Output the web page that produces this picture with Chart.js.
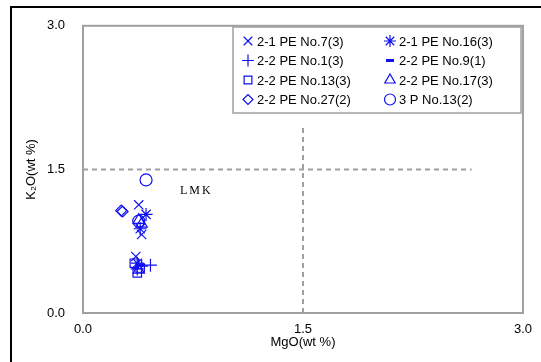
<!DOCTYPE html>
<html>
<head>
<meta charset="utf-8">
<script src="https://cdn.jsdelivr.net/npm/chart.js@4"></script>
<style>
  html, body { margin: 0; padding: 0; background: #fff; }
  #wrap { width: 541px; height: 362px; position: relative; }
</style>
</head>
<body>
<div id="wrap"><canvas id="plot" width="541" height="362"></canvas></div>
<script>
// sample series: MgO (x) vs K2O (y), wt %
const seriesNames = ['2-1 PE No.7(3)', '2-1 PE No.16(3)', '2-2 PE No.1(3)', '2-2 PE No.9(1)',
  '2-2 PE No.13(3)', '2-2 PE No.17(3)', '2-2 PE No.27(2)', '3 P No.13(2)']
const seriesStyles = ['crossRot', 'star', 'cross', 'line', 'rect', 'triangle', 'rectRot', 'circle']
const mgo = [
  [0.38, 0.40, 0.36],
  [0.43, 0.39, 0.37],
  [0.46, 0.40, 0.37],
  [0.39],
  [0.35, 0.39, 0.37],
  [0.38, 0.40, 0.38],
  [0.26, 0.27],
  [0.43, 0.38]
]
const k2o = [
  [1.13, 0.82, 0.59],
  [1.03, 0.88, 0.52],
  [0.50, 0.49, 0.46],
  [0.50],
  [0.52, 0.47, 0.42],
  [0.97, 0.93, 0.45],
  [1.07, 1.06],
  [1.39, 0.96]
]
// boundary lines of the LMK field
const hLineX = [0, 2.65]
const hLineY = [1.5, 1.5]
const vLineX = [1.5, 1.5]
const vLineY = [0, 1.95]
const tickValues = [0, 1.5, 3.0]

const blue = '#1010f0'
const grey = '#a0a0a0'

function markSize(style) {
  if (style == 'line') return 4.5
  if (style == 'rectRot') return 5.5
  if (style == 'rect' || style == 'circle') return 6
  return 6.5
}

let datasets = seriesNames.map((name, i) => ({
  label: name,
  data: mgo[i].map((x, j) => ({x: x, y: k2o[i][j]})),
  pointStyle: seriesStyles[i],
  pointRadius: markSize(seriesStyles[i]),
  borderColor: blue,
  backgroundColor: 'rgba(0,0,0,0)',
  pointBorderWidth: seriesStyles[i] == 'line' ? 3 : 1.2,
  showLine: false
}))
datasets.push({
  label: 'h', data: hLineX.map((x, i) => ({x: x, y: hLineY[i]})),
  showLine: true, borderColor: grey, borderWidth: 2, borderDash: [5, 4], pointRadius: 0
})
datasets.push({
  label: 'v', data: vLineX.map((x, i) => ({x: x, y: vLineY[i]})),
  showLine: true, borderColor: grey, borderWidth: 2, borderDash: [5, 4], pointRadius: 0
})

// frame, outer border, LMK text and the two-column legend
const decor = {
  id: 'decor',
  beforeDatasetsDraw(chart) {
    const ctx = chart.ctx, a = chart.chartArea
    ctx.save()
    ctx.strokeStyle = grey
    ctx.lineWidth = 2
    ctx.strokeRect(a.left, a.top, a.right - a.left, a.bottom - a.top)
    ctx.strokeStyle = '#000'
    ctx.strokeRect(11, 7, 560, 400)
    ctx.restore()
  },
  afterDatasetsDraw(chart) {
    const ctx = chart.ctx
    ctx.save()
    ctx.fillStyle = '#000'
    ctx.font = '12px "Liberation Serif", serif'
    ctx.textBaseline = 'middle'
    ctx.letterSpacing = '2px'
    ctx.fillText('LMK', 180, 191)
    ctx.letterSpacing = '0px'

    // legend box
    const bx = 233, by = 27, bw = 288, bh = 86
    ctx.fillStyle = '#fff'
    ctx.fillRect(bx, by, bw, bh)
    ctx.strokeStyle = grey
    ctx.lineWidth = 1.5
    ctx.strokeRect(bx, by, bw, bh)
    ctx.font = '13px "Liberation Sans", Arial, sans-serif'
    seriesNames.forEach((name, i) => {
      const col = i % 2, row = Math.floor(i / 2)
      const mx = bx + 15 + col * 142, my = by + 14 + row * 19.5
      const st = seriesStyles[i]
      const bw2 = st == 'line' ? 3 : 1.2
      ctx.strokeStyle = blue
      ctx.fillStyle = 'rgba(0,0,0,0)'
      ctx.lineWidth = bw2
      Chart.helpers.drawPoint(ctx, {pointStyle: st, radius: markSize(st) - 0.5, rotation: 0,
        borderWidth: bw2}, mx, my)
      ctx.fillStyle = '#000'
      ctx.fillText(name, mx + 9, my + 1)
    })
    ctx.restore()
  }
}

new Chart(document.getElementById('plot'), {
  type: 'scatter',
  data: {datasets: datasets},
  options: {
    responsive: false,
    animation: false,
    layout: {padding: {left: 0, top: 22, right: 17, bottom: 0}},
    plugins: {legend: {display: false}, tooltip: {enabled: false}},
    scales: {
      x: {
        type: 'linear', min: 0, max: 3,
        afterBuildTicks: s => { s.ticks = tickValues.map(v => ({value: v})) },
        afterFit: s => { s.height = 49 },
        grid: {display: false, drawTicks: false},
        border: {display: false},
        ticks: {color: '#000', padding: 9, maxRotation: 0, font: {family: 'Liberation Sans', size: 13},
          callback: v => v.toFixed(1)},
        title: {display: true, text: 'MgO(wt %)', color: '#000', padding: {top: 0, bottom: 12},
          font: {family: 'Liberation Sans', size: 13}}
      },
      y: {
        type: 'linear', min: 0, max: 3,
        afterBuildTicks: s => { s.ticks = tickValues.map(v => ({value: v})) },
        afterFit: s => { s.width = 83 },
        grid: {display: false, drawTicks: false},
        border: {display: false},
        ticks: {color: '#000', padding: 18, font: {family: 'Liberation Sans', size: 13},
          callback: v => v.toFixed(1)},
        title: {display: true, text: 'K₂O(wt %)', color: '#000', padding: {top: 24, bottom: 0},
          font: {family: 'Liberation Sans', size: 13}}
      }
    }
  },
  plugins: [decor]
})
</script>
</body>
</html>
